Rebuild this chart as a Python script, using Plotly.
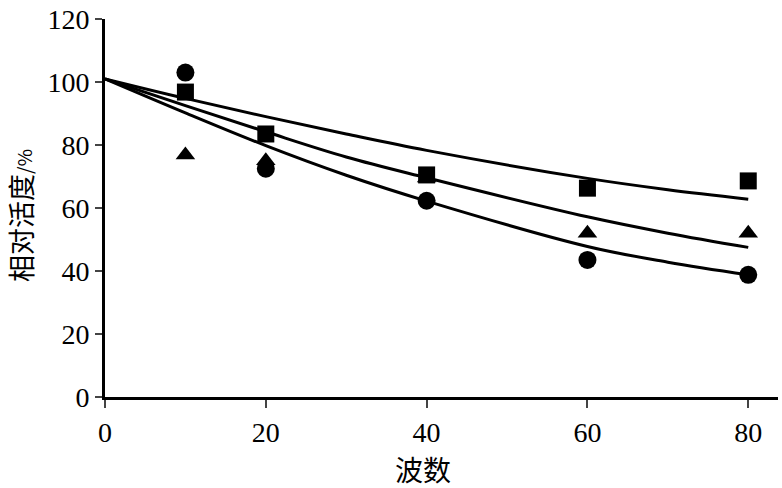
import plotly.graph_objects as go

# Measured data (x = 波数)
x_pts = [10, 20, 40, 60, 80]
square_y = [96.8, 83.5, 70.5, 66.3, 68.6]
circle_y = [103.0, 72.5, 62.3, 43.5, 38.8]
triangle_y = [76.8, 75.0, 69.5, 52.0, 52.0]

# Fitted curves
curve_x = [0, 10, 20, 30, 40, 60, 70, 80]
curve_top = [101, 94.8, 89.0, 83.5, 78.3, 69.4, 65.8, 62.8]
curve_mid = [101, 92.5, 84.2, 76.2, 69.6, 57.2, 52.0, 47.5]
curve_bot = [101, 90.2, 79.8, 70.4, 62.2, 47.8, 42.8, 38.8]

x_ticks = [0, 20, 40, 60, 80]
y_ticks = [0, 20, 40, 60, 80, 100, 120]

serif = "Liberation Serif, Times New Roman, serif"
cjk = "Noto Sans CJK SC, Liberation Serif, serif"

fig = go.Figure()
for cy in (curve_top, curve_mid, curve_bot):
    fig.add_trace(go.Scatter(x=curve_x, y=cy, mode="lines", line=dict(color="black", width=3, shape="spline"),
                             showlegend=False, hoverinfo="skip"))

fig.add_trace(go.Scatter(x=x_pts, y=triangle_y, mode="markers",
                         marker=dict(symbol="triangle-up", size=17, color="black"), showlegend=False))
fig.add_trace(go.Scatter(x=x_pts, y=square_y, mode="markers",
                         marker=dict(symbol="square", size=17, color="black"), showlegend=False))
fig.add_trace(go.Scatter(x=x_pts, y=circle_y, mode="markers",
                         marker=dict(symbol="circle", size=18, color="black"), showlegend=False))

fig.update_layout(
    width=782, height=488,
    margin=dict(l=105, r=4, t=17, b=91),
    paper_bgcolor="white", plot_bgcolor="white",
    font=dict(family=serif, color="black", size=28),
    xaxis=dict(range=[0, 83.7], tickvals=x_ticks, ticks="outside", ticklen=8, tickwidth=2,
               showline=True, linecolor="black", linewidth=3, showgrid=False, zeroline=False,
               tickfont=dict(family=serif, size=28)),
    yaxis=dict(range=[0, 120], tickvals=y_ticks, ticks="outside", ticklen=7, tickwidth=2,
               showline=True, linecolor="black", linewidth=3, showgrid=False, zeroline=False,
               tickfont=dict(family=serif, size=28)),
    annotations=[
        dict(text="波数", xref="paper", yref="paper", x=(423 - 105) / 673, y=-(469 - 397) / 380,
             showarrow=False, font=dict(family=cjk, size=28), xanchor="center", yanchor="middle"),
        dict(text="相对活度<span style='font-size:19px'>/%</span>", xref="paper", yref="paper",
             x=-(105 - 21) / 673, y=(397 - 215) / 380, textangle=-90,
             showarrow=False, font=dict(family=cjk, size=27), xanchor="center", yanchor="middle"),
    ],
)

fig.write_html("out.html")
